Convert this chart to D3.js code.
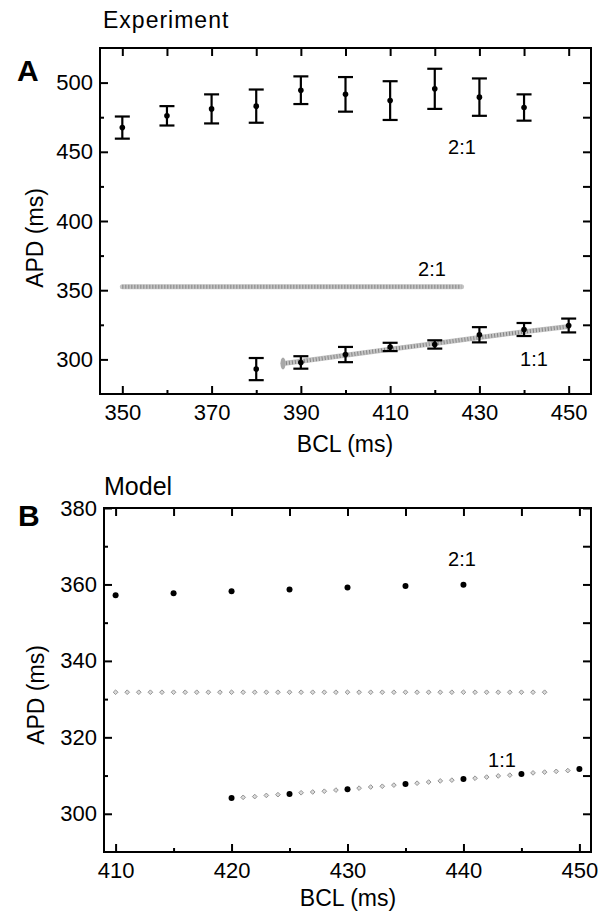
<!DOCTYPE html>
<html>
<head>
<meta charset="utf-8">
<script src="https://cdn.jsdelivr.net/npm/d3@7"></script>
<style>
  body { margin: 0; background: #fff; }
  svg { font-family: "Liberation Sans", Arial, Helvetica, sans-serif; }
</style>
</head>
<body>
<div class="chart"></div>
<script>
// Panel A (experiment): 2:1 and 1:1 APD, mean +/- error
const aBcl2to1 = [350, 360, 370, 380, 390, 400, 410, 420, 430, 440];
const aApd2to1 = [467.5, 476, 481, 483, 494.5, 491.5, 487, 495.5, 489.5, 482];
const aErr2to1 = [8, 7, 10.5, 12, 10, 12.5, 14, 14.5, 13.5, 9.5];

const aBcl1to1 = [380, 390, 400, 410, 420, 430, 440, 450];
const aApd1to1 = [293, 297.8, 303.5, 309, 310.8, 317.8, 321.6, 324.5];
const aErr1to1 = [8, 4.5, 5.5, 3, 3, 5.5, 4.7, 5];

// model curves overlaid on panel A (gray bands)
const aBand2to1Bcl = [350, 426];
const aBand2to1Apd = [352.5, 352.5];
const aBand1to1Bcl = [386, 390, 400, 410, 420, 430, 440, 450];
const aBand1to1Apd = [297, 298.6, 303, 307.4, 311.5, 315.8, 320, 323.8];

// Panel B (model)
const bBcl2to1 = [410, 415, 420, 425, 430, 435, 440];
const bApd2to1 = [357.2, 357.7, 358.2, 358.7, 359.2, 359.6, 359.9];
const bBcl1to1 = [420, 425, 430, 435, 440, 445, 450];
const bApd1to1 = [304.1, 305.2, 306.4, 307.8, 309.1, 310.4, 311.7];

const bGray2to1Bcl = [410, 411, 412, 413, 414, 415, 416, 417, 418, 419, 420, 421, 422, 423, 424, 425, 426, 427, 428,
  429, 430, 431, 432, 433, 434, 435, 436, 437, 438, 439, 440, 441, 442, 443, 444, 445, 446, 447];
const bGray2to1Apd = [331.8, 331.8, 331.8, 331.8, 331.8, 331.8, 331.8, 331.8, 331.8, 331.8, 331.8, 331.8, 331.8,
  331.8, 331.8, 331.8, 331.8, 331.8, 331.8, 331.8, 331.8, 331.8, 331.8, 331.8, 331.8, 331.8, 331.8, 331.8, 331.8,
  331.8, 331.8, 331.8, 331.8, 331.8, 331.8, 331.8, 331.8, 331.8];
const bGray1to1Bcl = [421, 422, 423, 424, 425, 426, 427, 428, 429, 430, 431, 432, 433, 434, 435, 436, 437, 438, 439,
  440, 441, 442, 443, 444, 445, 446, 447, 448, 449];
const bGray1to1Apd = [304.3, 304.5, 304.8, 305.0, 305.2, 305.5, 305.7, 305.9, 306.2, 306.4, 306.7, 307.0, 307.2,
  307.5, 307.8, 308.0, 308.3, 308.6, 308.8, 309.1, 309.3, 309.6, 309.9, 310.1, 310.4, 310.7, 310.9, 311.1, 311.3];

// ticks
const aXMajor = [350, 370, 390, 410, 430, 450];
const aXMinor = [360, 380, 400, 420, 440];
const aYMajor = [300, 350, 400, 450, 500];
const aYMinor = [325, 375, 425, 475];
const bXMajor = [410, 420, 430, 440, 450];
const bXMinor = [415, 425, 435, 445];
const bYMajor = [300, 320, 340, 360, 380];
const bYMinor = [310, 330, 350, 370];

const width = 606, height = 913;
const svg = d3.select('.chart').append('svg')
    .attr('width', width)
    .attr('height', height);

const zip = (xs, ys) => xs.map((x, i) => ({x: x, y: ys[i]}));

function frame(g, x, y, xMaj, xMin, yMaj, yMin) {
  const [x0, x1] = x.range();
  const [y0, y1] = y.range();
  const major = 8, minor = 4;

  // bottom
  g.append('g').attr('transform', `translate(0,${y0})`)
      .call(d3.axisBottom(x).tickValues(xMaj).tickSize(-major).tickPadding(10));
  g.append('g').attr('transform', `translate(0,${y0})`)
      .call(d3.axisBottom(x).tickValues(xMin).tickSize(-minor).tickFormat(''));
  // top
  g.append('g').attr('transform', `translate(0,${y1})`)
      .call(d3.axisTop(x).tickValues(xMaj.concat(xMin)).tickSize(-major).tickFormat(''));
  // left
  g.append('g').attr('transform', `translate(${x0},0)`)
      .call(d3.axisLeft(y).tickValues(yMaj).tickSize(-major).tickPadding(7));
  g.append('g').attr('transform', `translate(${x0},0)`)
      .call(d3.axisLeft(y).tickValues(yMin).tickSize(-minor).tickFormat(''));
  // right
  g.append('g').attr('transform', `translate(${x1},0)`)
      .call(d3.axisRight(y).tickValues(yMaj.concat(yMin)).tickSize(-major).tickFormat(''));

  g.selectAll('.domain').remove();
  g.selectAll('.tick line').attr('stroke', '#000').attr('stroke-width', 2);
  g.selectAll('.tick text')
      .attr('font-size', '22px')
      .attr('fill', '#000')
      .attr('font-family', '"Liberation Sans", Arial, sans-serif');

  g.append('rect')
      .attr('x', x0).attr('y', y1)
      .attr('width', x1 - x0).attr('height', y0 - y1)
      .attr('fill', 'none')
      .attr('stroke', '#000')
      .attr('stroke-width', 2);
}

function label(txt, x, y, size, opts) {
  const t = svg.append('text')
      .attr('x', x).attr('y', y)
      .attr('font-size', size + 'px')
      .attr('fill', '#000')
      .text(txt);
  if (opts && opts.anchor) t.attr('text-anchor', opts.anchor);
  if (opts && opts.bold) t.attr('font-weight', 'bold');
  if (opts && opts.spacing) t.attr('letter-spacing', opts.spacing);
  if (opts && opts.rotate) t.attr('transform', `rotate(-90,${x},${y})`);
  return t;
}

// ---------- Panel A ----------
const xA = d3.scaleLinear().domain([345, 455]).range([100, 591]);
const yA = d3.scaleLinear().domain([275, 525]).range([394, 48]);
const gA = svg.append('g');

// gray model bands
function band(g, pts, x, y) {
  const line = d3.line().x(d => x(d.x)).y(d => y(d.y));
  g.append('path').datum(pts)
      .attr('d', line)
      .attr('fill', 'none')
      .attr('stroke', '#c4c4c4')
      .attr('stroke-width', 5)
      .attr('stroke-linecap', 'round');
  g.append('path').datum(pts)
      .attr('d', line)
      .attr('fill', 'none')
      .attr('stroke', '#858585')
      .attr('stroke-width', 4)
      .attr('stroke-dasharray', '1 2');
}
band(gA, zip(aBand2to1Bcl, aBand2to1Apd), xA, yA);
band(gA, zip(aBand1to1Bcl, aBand1to1Apd), xA, yA);
// rounded onset of the 1:1 band
gA.append('ellipse')
    .attr('cx', xA(aBand1to1Bcl[0]))
    .attr('cy', yA(aBand1to1Apd[0]))
    .attr('rx', 2.5).attr('ry', 6)
    .attr('fill', '#a8a8a8');

function errorBars(g, bcl, apd, err) {
  const data = bcl.map((b, i) => ({x: b, y: apd[i], e: err[i]}));
  const cap = 7.5;
  const eb = g.append('g').selectAll('g').data(data).enter().append('g')
      .attr('stroke', '#000').attr('stroke-width', 2.2);
  eb.append('line')
      .attr('x1', d => xA(d.x)).attr('x2', d => xA(d.x))
      .attr('y1', d => yA(d.y + d.e)).attr('y2', d => yA(d.y - d.e));
  eb.append('line')
      .attr('x1', d => xA(d.x) - cap).attr('x2', d => xA(d.x) + cap)
      .attr('y1', d => yA(d.y + d.e)).attr('y2', d => yA(d.y + d.e));
  eb.append('line')
      .attr('x1', d => xA(d.x) - cap).attr('x2', d => xA(d.x) + cap)
      .attr('y1', d => yA(d.y - d.e)).attr('y2', d => yA(d.y - d.e));
  g.append('g').selectAll('circle').data(data).enter().append('circle')
      .attr('cx', d => xA(d.x)).attr('cy', d => yA(d.y))
      .attr('r', 2.8).attr('fill', '#000');
}
errorBars(gA, aBcl2to1, aApd2to1, aErr2to1);
errorBars(gA, aBcl1to1, aApd1to1, aErr1to1);

frame(gA, xA, yA, aXMajor, aXMinor, aYMajor, aYMinor);

label('Experiment', 103, 28, 23, {spacing: 1});
label('A', 17, 81, 30, {bold: true});
label('APD (ms)', 43, 238, 23, {anchor: 'middle', rotate: true});
label('BCL (ms)', 345, 452, 23, {anchor: 'middle'});
label('2:1', 462, 154, 20, {anchor: 'middle'});
label('2:1', 432, 276, 20, {anchor: 'middle'});
label('1:1', 534, 366, 20, {anchor: 'middle'});

// ---------- Panel B ----------
const xB = d3.scaleLinear().domain([409, 451]).range([104, 591]);
const yB = d3.scaleLinear().domain([290, 380]).range([852, 508]);
const gB = svg.append('g');

// small rhombus markers (square turned 45 degrees)
const diamond = d3.symbol().type(d3.symbolSquare).size(11);
function grayDiamonds(g, bcl, apd) {
  g.append('g').selectAll('path').data(zip(bcl, apd)).enter().append('path')
      .attr('d', diamond)
      .attr('transform', d => `translate(${xB(d.x)},${yB(d.y)}) rotate(45)`)
      .attr('fill', '#dadada')
      .attr('stroke', '#8f8f8f')
      .attr('stroke-width', 0.9);
}
grayDiamonds(gB, bGray2to1Bcl, bGray2to1Apd);
grayDiamonds(gB, bGray1to1Bcl, bGray1to1Apd);

function dots(g, bcl, apd) {
  g.append('g').selectAll('circle').data(zip(bcl, apd)).enter().append('circle')
      .attr('cx', d => xB(d.x)).attr('cy', d => yB(d.y))
      .attr('r', 3).attr('fill', '#000');
}
dots(gB, bBcl2to1, bApd2to1);
dots(gB, bBcl1to1, bApd1to1);

frame(gB, xB, yB, bXMajor, bXMinor, bYMajor, bYMinor);

label('Model', 104, 495, 25);
label('B', 18, 526, 30, {bold: true});
label('APD (ms)', 44, 695, 23, {anchor: 'middle', rotate: true});
label('BCL (ms)', 348, 906, 23, {anchor: 'middle'});
label('2:1', 462, 566, 20, {anchor: 'middle'});
label('1:1', 502, 767, 20, {anchor: 'middle'});
</script>
</body>
</html>
